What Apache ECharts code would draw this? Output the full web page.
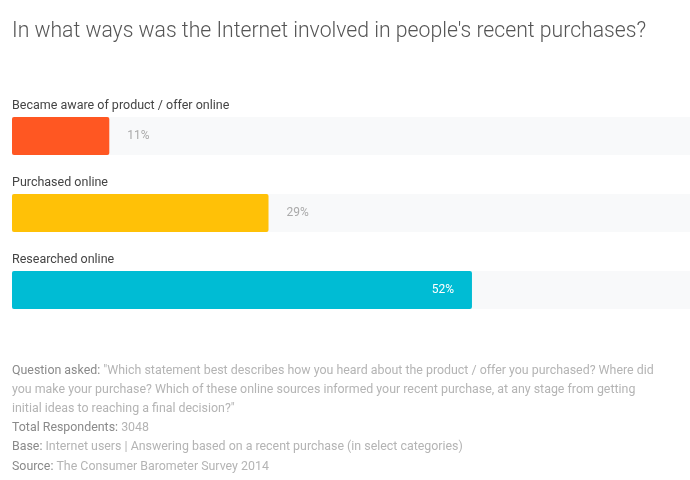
<!DOCTYPE html>
<html>
<head>
<meta charset="utf-8">
<script src="https://cdn.jsdelivr.net/npm/echarts@6/dist/echarts.min.js"></script>
<style>
  html, body { margin: 0; padding: 0; background: #fff; }
  #chart { width: 690px; height: 480px; }
</style>
</head>
<body>
<div id="chart"></div>
<script>
const categories = [
  "Became aware of product / offer online",
  "Purchased online",
  "Researched online"
];
const values = [11, 29, 52];
const barColors = ["#FF5722", "#FFC107", "#00BCD4"];

const titleText = "In what ways was the Internet involved in people's recent purchases?";
const notes = [
  ["Question asked: ", "\"Which statement best describes how you heard about the product / offer you purchased? Where did"],
  ["", "you make your purchase? Which of these online sources informed your recent purchase, at any stage from getting"],
  ["", "initial ideas to reaching a final decision?\""],
  ["Total Respondents: ", "3048"],
  ["Base: ", "Internet users | Answering based on a recent purchase (in select categories)"],
  ["Source: ", "The Consumer Barometer Survey 2014"]
];

// the track runs past the right edge of the picture, so the axis is cut there
const axisMax = 76.65;

const chart = echarts.init(document.getElementById("chart"));

const barData = values.map((v, i) => {
  const inside = v > 40;
  return {
    value: v,
    itemStyle: { color: barColors[i], borderRadius: 2 },
    label: {
      show: true,
      position: inside ? "insideRight" : "right",
      distance: 18,
      color: inside ? "#ffffff" : "#aaaaaa",
      fontSize: 12,
      fontFamily: "Roboto",
      formatter: "{c}%"
    }
  };
});

const noteText = notes.map(n => (n[0] ? "{k|" + n[0] + "}" : "") + "{v|" + n[1] + "}").join("\n");

chart.setOption({
  animation: false,
  title: {
    text: titleText,
    left: 12,
    top: 21,
    padding: 0,
    textStyle: { fontFamily: "Roboto", fontWeight: 300, fontSize: 21.2, color: "#555555" }
  },
  grid: { left: 12, right: 0, top: 97.5, bottom: 151.5 },
  xAxis: {
    type: "value",
    min: 0,
    max: axisMax,
    show: false
  },
  yAxis: {
    type: "category",
    data: categories,
    inverse: true,
    axisLine: { show: false },
    axisTick: { show: false },
    axisLabel: {
      inside: true,
      margin: 0,
      verticalAlign: "bottom",
      padding: [0, 0, 24, 0],
      color: "#444444",
      fontSize: 12.5,
      fontFamily: "Roboto"
    }
  },
  series: [{
    type: "bar",
    data: barData,
    barWidth: 38,
    showBackground: true,
    backgroundStyle: { color: "#F8F9FA" },
    z: 2
  }],
  graphic: [{
    type: "text",
    left: 12,
    top: 361,
    style: {
      text: noteText,
      lineHeight: 19.2,
      rich: {
        k: { fontFamily: "Roboto", fontSize: 12.4, fill: "#8a8a8a", lineHeight: 19.2 },
        v: { fontFamily: "Roboto", fontSize: 12.4, fill: "#b4b4b4", lineHeight: 19.2 }
      }
    }
  }]
});
</script>
</body>
</html>
